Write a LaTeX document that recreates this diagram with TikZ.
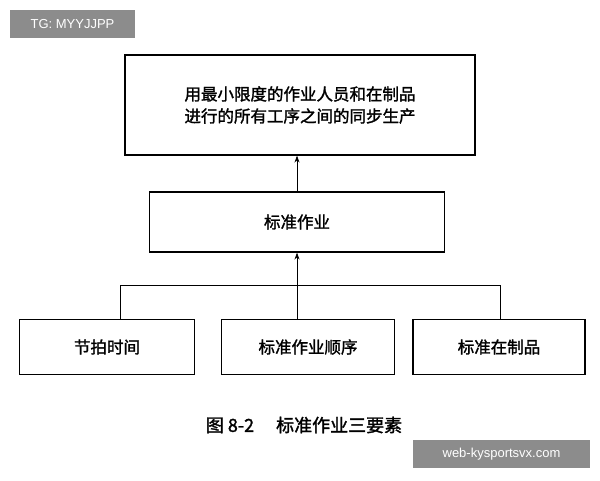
\documentclass[tikz,border=0pt]{standalone}
\usepackage{fontspec}
\newfontfamily\cjk{Noto Sans CJK SC}[FakeBold=1.6]
\setsansfont{Liberation Sans}
\usetikzlibrary{positioning, arrows.meta}
\tikzset{
  stagebox/.style={draw, line width=1.2pt, align=center, font=\cjk\fontsize{16.5}{22}\selectfont},
  tagbox/.style={fill=black!45, text=white, font=\sffamily\fontsize{13}{15}\selectfont, inner sep=0pt}
}
\begin{document}
\begin{tikzpicture}[>=stealth, x=1pt, y=-1pt]
\useasboundingbox (0,0) rectangle (600,480);
\node[stagebox, minimum width=350, minimum height=100] (goal) at (300,105) {用最小限度的作业人员和在制品\\进行的所有工序之间的同步生产};
\node[stagebox, minimum width=295, minimum height=60] (std) at (297,222) {标准作业};
\node[stagebox, minimum width=175, minimum height=55] (takt) at (107,347) {节拍时间};
\node[stagebox, minimum width=173, minimum height=55] (seq) at (308,347) {标准作业顺序};
\node[stagebox, minimum width=172, minimum height=55] (wip) at (499,347) {标准在制品};
%
\coordinate (join) at (297,285);
\draw[-{Stealth[length=7pt,width=5pt]}, line width=0.8pt] (std.north -| join) -- (goal.south -| join);
\draw[line width=0.8pt] (takt.north -| 120,0) -- (120,285) -- (500,285) -- (wip.north -| 500,0);
\draw[-{Stealth[length=7pt,width=5pt]}, line width=0.8pt] (seq.north -| join) -- (std.south -| join);
%
\node[font=\cjk\fontsize{18}{22}\selectfont] (cap) at (304,425) {图 8-2\quad\ 标准作业三要素};
\node[tagbox, minimum width=125, minimum height=28] (tg) at (72.5,24) {TG: MYYJJPP};
\node[tagbox, minimum width=177, minimum height=28] (web) at (501.5,454) {web-kysportsvx.com};
\end{tikzpicture}
\end{document}
